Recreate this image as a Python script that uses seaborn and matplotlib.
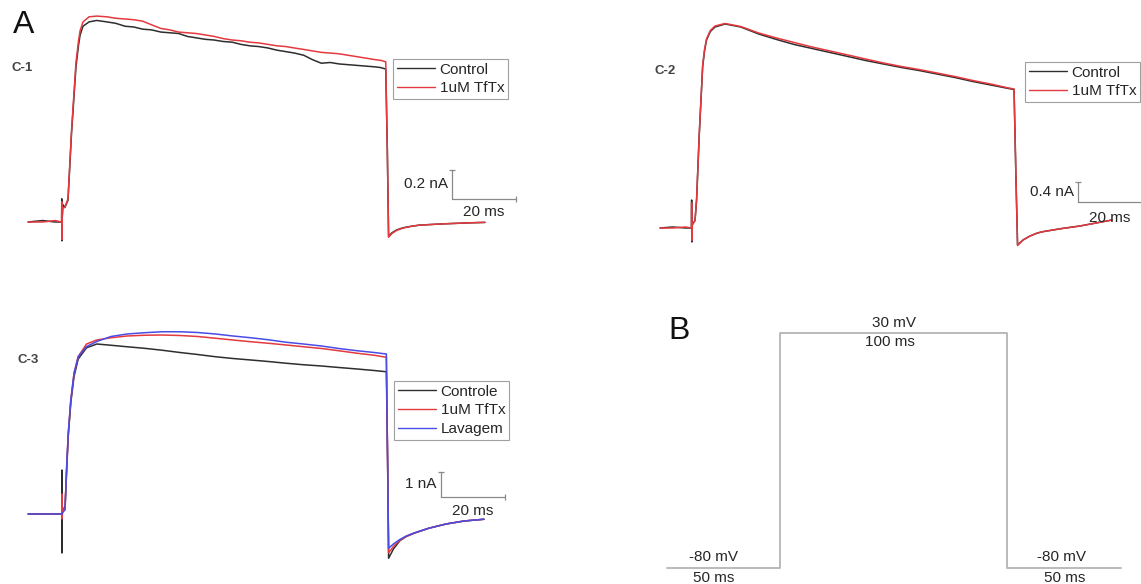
import matplotlib
matplotlib.use("Agg")
import numpy as np
import pandas as pd
import matplotlib.pyplot as plt
import seaborn as sns

# ---------------- data (time in ms, current in nA) ----------------
# C-1
t_c1 = [-12.5, -8, -4, -2.0, -1.95, -1.9, -1.85, -1.6, -1.0, 0.0, 1.1, 2.5, 3.3, 3.8, 4.7, 6.6, 9.0,
        12.2, 15, 17.9, 20.6, 23.4, 26.2, 29.1, 31.9, 34.7, 37.4, 40.2, 43, 45.8, 48.6, 51.5,
        54.2, 57, 59.8, 62.7, 65.5, 68.3, 71, 73.9, 76.6, 79.4, 82.2, 85, 87.8, 90.6, 93.4,
        96.2, 98, 99.6, 100.1, 100.5, 101.5, 103, 105, 107.5, 110, 115.6, 120.8, 125.5, 130.7]
c1_control = [0.0, 0.01, 0.0, 0.0, 0.16, -0.13, 0.02, 0.12, 0.10, 0.15, 0.61, 1.07, 1.22, 1.29, 1.35,
              1.38, 1.39, 1.38, 1.37, 1.35, 1.345, 1.33, 1.325, 1.31, 1.305, 1.30, 1.28, 1.27,
              1.26, 1.255, 1.245, 1.24, 1.225, 1.215, 1.21, 1.20, 1.185, 1.175, 1.165, 1.15,
              1.12, 1.095, 1.10, 1.09, 1.085, 1.08, 1.075, 1.07, 1.065, 1.055, 0.5, -0.10,
              -0.075, -0.055, -0.04, -0.03, -0.022, -0.015, -0.01, -0.006, -0.003]
c1_tftx = [0.0, 0.0, 0.01, 0.0, 0.14, -0.12, 0.02, 0.10, 0.10, 0.16, 0.63, 1.10, 1.25, 1.32, 1.38,
           1.415, 1.42, 1.415, 1.405, 1.40, 1.395, 1.385, 1.36, 1.335, 1.325, 1.31, 1.305, 1.30,
           1.29, 1.28, 1.265, 1.255, 1.25, 1.24, 1.235, 1.225, 1.215, 1.21, 1.20, 1.19, 1.18,
           1.17, 1.165, 1.16, 1.15, 1.14, 1.13, 1.12, 1.115, 1.105, 0.5, -0.105, -0.08, -0.058,
           -0.042, -0.03, -0.022, -0.015, -0.01, -0.006, -0.002]

# C-2
t_c2 = [-10.9, -7, -3, -1.1, -1.05, -1.0, -0.95, -0.5, 0.0, 0.5, 1.35, 2.4, 3.0, 3.6, 4.8, 6.25, 9.4,
        14.3, 19.9, 25.5, 31.0, 36.6, 42.2, 47.8, 53.3, 58.9, 64.5, 70, 75.6, 81.2, 86.8, 92.4, 98,
        99.7, 100.3, 100.8, 102.5, 104.7, 107, 109, 114.7, 120.3, 125.3, 130.3]
c2_control = [0.0, 0.02, 0.0, 0.0, 0.56, -0.28, 0.05, 0.10, 0.15, 0.56, 1.89, 3.23, 3.55, 3.76,
              3.93, 4.02, 4.08, 4.02, 3.88, 3.77, 3.67, 3.59, 3.51, 3.43, 3.35, 3.28, 3.21, 3.15,
              3.08, 3.01, 2.93, 2.86, 2.79, 2.77, 1.0, -0.34, -0.24, -0.16, -0.10, -0.07, -0.01,
              0.04, 0.10, 0.16]
c2_tftx = [0.0, 0.0, 0.02, 0.0, 0.50, -0.25, 0.05, 0.10, 0.15, 0.58, 1.92, 3.26, 3.58, 3.78,
           3.95, 4.04, 4.09, 4.03, 3.90, 3.80, 3.71, 3.62, 3.54, 3.46, 3.38, 3.30, 3.23, 3.17,
           3.10, 3.03, 2.95, 2.88, 2.80, 2.78, 1.0, -0.35, -0.24, -0.16, -0.10, -0.07, -0.01,
           0.04, 0.10, 0.16]

# C-3
t_c3 = [-11.8, -7, -3, -1.3, -1.27, -1.25, -1.22, -0.8, -0.3, 0.2, 0.7, 1.5, 2.5, 3.8, 6.4, 9.6,
        14, 19, 24.3, 30, 35.5, 41, 46.6, 52, 57.6, 63, 68.6, 74, 79.6, 85, 90.7, 96, 99.8,
        100.2, 100.5, 102, 104, 106, 108.4, 113, 118.4, 124, 130.2]
c3_controle = [0.0, 0.0, 0.0, 0.0, 1.76, -1.56, 0.10, 0.20, 0.30, 1.70, 3.10, 4.45, 5.50, 6.20,
               6.65, 6.80, 6.75, 6.69, 6.63, 6.55, 6.46, 6.38, 6.29, 6.22, 6.16, 6.10, 6.03,
               5.97, 5.92, 5.86, 5.80, 5.74, 5.69, 2.0, -1.77, -1.40, -1.07, -0.90, -0.77,
               -0.57, -0.40, -0.28, -0.21]
c3_tftx = [0.0, 0.0, 0.0, 0.0, 0.80, -0.20, 0.10, 0.20, 0.20, 1.85, 3.20, 4.55, 5.62, 6.30,
           6.80, 6.96, 7.05, 7.12, 7.15, 7.16, 7.14, 7.10, 7.03, 6.96, 6.89, 6.83, 6.76, 6.69,
           6.62, 6.53, 6.43, 6.35, 6.27, 2.0, -1.55, -1.30, -1.05, -0.90, -0.77, -0.57, -0.40,
           -0.28, -0.21]
c3_lavagem = [0.0, 0.0, 0.0, 0.0, 0.0, 0.0, 0.0, 0.10, 0.16, 1.89, 3.23, 4.56, 5.63, 6.29,
              6.70, 6.90, 7.10, 7.20, 7.25, 7.29, 7.29, 7.26, 7.20, 7.12, 7.05, 6.97, 6.87,
              6.80, 6.72, 6.62, 6.53, 6.46, 6.40, 2.0, -1.37, -1.20, -1.02, -0.88, -0.76,
              -0.57, -0.40, -0.28, -0.21]

# B: voltage protocol
t_protocol = [0, 50, 50, 150, 150, 200]
v_protocol = [-80, -80, 30, 30, -80, -80]

labels_2 = ["Control", "1uM TfTx"]
labels_3 = ["Controle", "1uM TfTx", "Lavagem"]

# ---------------- style ----------------
sns.set_theme(style="white")
plt.rcParams['font.family'] = ['Liberation Sans', 'DejaVu Sans']

W, H = 1141, 584
fig = plt.figure(figsize=(W / 100, H / 100), dpi=100)

C_BLACK = "#2e2e2e"
C_RED = "#e4393f"
C_BLUE = "#4b4be6"
SB = "#8a8a8a"
TXT = "#262626"
FS = 11


def panel_axes(x0_px, ppx, y0_px, ppy):
    ax = fig.add_axes([0, 0, 1, 1])
    ax.set_xlim((0 - x0_px) / ppx, (W - x0_px) / ppx)
    ax.set_ylim((y0_px - H) / ppy, y0_px / ppy)
    ax.set_axis_off()
    ax.patch.set_alpha(0)
    return ax


def traces(ax, t, series, names, colors):
    frames = [pd.DataFrame({"t": t, "I": s, "cond": n}) for s, n in zip(series, names)]
    df = pd.concat(frames, ignore_index=True)
    sns.lineplot(data=df, x="t", y="I", hue="cond", hue_order=names,
                 palette=dict(zip(names, colors)), estimator=None, sort=False,
                 lw=1.1, ax=ax, legend=True)
    handles, labs = ax.get_legend_handles_labels()
    return handles, labs


def legend(ax, handles, labs, x_px, y_px):
    lg = ax.legend(handles, labs, loc="upper left",
                   bbox_to_anchor=(x_px / W, 1 - y_px / H), bbox_transform=fig.transFigure,
                   frameon=True, fancybox=False, fontsize=FS, handlelength=2.5,
                   handletextpad=0.3, labelspacing=0.3, borderpad=0.25, borderaxespad=0,
                   framealpha=1)
    lg.get_frame().set_edgecolor("#a0a0a0")
    lg.get_frame().set_linewidth(0.8)
    for tx in lg.get_texts():
        tx.set_color(TXT)
    for ln in lg.get_lines():
        ln.set_linewidth(1.0)


def scale_bar(ax, t, i, dt, di, vlab, hlab, vdx, hdy):
    ax.plot([t, t], [i, i + di], color=SB, lw=0.9)
    ax.plot([t, t + dt], [i, i], color=SB, lw=0.9)
    ax.plot([t], [i + di], marker="_", ms=4, mew=0.9, color=SB)
    ax.plot([t + dt], [i], marker="|", ms=4, mew=0.9, color=SB)
    ax.annotate(vlab, (t, i + di / 2), xytext=(vdx, 0), textcoords="offset pixels",
                ha="right", va="center", fontsize=FS, color=TXT)
    ax.annotate(hlab, (t + dt / 2, i), xytext=(0, hdy), textcoords="offset pixels",
                ha="center", va="center", fontsize=FS, color=TXT)


# ---- C-1 ----
ax1 = panel_axes(68, 3.19, 222, 145)
h, l = traces(ax1, t_c1, [c1_control, c1_tftx], labels_2, [C_BLACK, C_RED])
legend(ax1, h, l, 393, 59)
scale_bar(ax1, 120.4, 0.159, 20, 0.2, "0.2 nA", "20 ms", -4, -13)

# ---- C-2 ----
ax2 = panel_axes(695, 3.2, 228, 50)
h, l = traces(ax2, t_c2, [c2_control, c2_tftx], labels_2, [C_BLACK, C_RED])
legend(ax2, h, l, 1025, 62)
scale_bar(ax2, 119.7, 0.52, 20, 0.4, "0.4 nA", "20 ms", -4, -16)

# ---- C-3 ----
ax3 = panel_axes(66, 3.21, 514, 25)
h, l = traces(ax3, t_c3, [c3_controle, c3_tftx, c3_lavagem], labels_3,
              [C_BLACK, C_RED, C_BLUE])
legend(ax3, h, l, 394, 381)
scale_bar(ax3, 116.8, 0.68, 20, 1.0, "1 nA", "20 ms", -5, -14)

# ---- B ----
axb = panel_axes(667, 2.27, 568 - 80 * 235 / 110, 235 / 110)
sns.lineplot(x=t_protocol, y=v_protocol, estimator=None, sort=False, color="#b4b4b4",
             lw=1.3, ax=axb)
for (tx, vy, s, dy) in [(100, 30, "30 mV", 10), (98, 30, "100 ms", -9),
                        (20.5, -80, "-80 mV", 11), (20.5, -80, "50 ms", -10),
                        (174, -80, "-80 mV", 11), (175, -80, "50 ms", -10)]:
    axb.annotate(s, (tx, vy), xytext=(0, dy), textcoords="offset pixels", ha="center",
                 va="center", fontsize=FS, color=TXT)

# ---- panel letters and trace labels ----
fig.text(13 / W, 1 - 25 / H, "A", fontsize=23, color="#111111", va="center", ha="left")
fig.text(668 / W, 1 - 331 / H, "B", fontsize=23, color="#111111", va="center", ha="left")
for (xp, yp, s) in [(11, 68, "C-1"), (654, 71, "C-2"), (18, 360, "C-3")]:
    fig.text(xp / W, 1 - yp / H, s, fontsize=9.5, fontweight="bold", color="#444444",
             va="center", ha="left")

fig.savefig("out.png", dpi=100, facecolor="white")
